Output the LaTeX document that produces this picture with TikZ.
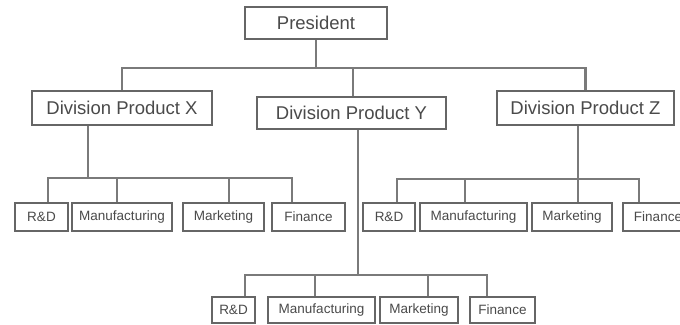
\documentclass[tikz,border=0pt]{standalone}
\usepackage{fontspec}
\setmainfont{Liberation Sans}
\definecolor{boxgray}{HTML}{666666}
\definecolor{linegray}{HTML}{7A7A7A}
\definecolor{txtgray}{HTML}{4A4A4A}
\begin{document}
\begin{tikzpicture}[x=1pt,y=-1pt,
  box/.style={draw=boxgray, line width=2pt, fill=white, text=txtgray, inner sep=0pt, anchor=center},
  big/.style={box, font=\fontsize{18.5}{21}\selectfont},
  small/.style={box, font=\fontsize{13.5}{16}\selectfont, minimum height=28pt},
  low/.style={box, font=\fontsize{13.5}{16}\selectfont, minimum height=26pt},
  link/.style={draw=linegray, line width=2.2pt}]
\fill[white] (0,0) rectangle (680,324);
\clip (0,0) rectangle (680,324);

% top level and divisions
\node[big, minimum width=142pt, minimum height=32pt] (pres) at (316,23) {President};
\node[big, minimum width=180pt, minimum height=34pt] (divx) at (122,108) {Division Product X};
\node[big, minimum width=189pt, minimum height=32pt] (divy) at (351.5,113) {Division Product Y};
\node[big, minimum width=177pt, minimum height=34pt] (divz) at (585.5,108) {Division Product Z};

% departments of X
\node[small, minimum width=53pt]  (rdx)  at (41.5,217)  {R\&D};
\node[small, minimum width=100pt] (mfx)  at (122,217)   {Manufacturing};
\node[small, minimum width=81pt]  (mkx)  at (223.5,217) {Marketing};
\node[small, minimum width=73pt]  (finx) at (308.5,217) {Finance};

% departments of Z
\node[small, minimum width=52pt]  (rdz)  at (389,217)   {R\&D};
\node[small, minimum width=107pt] (mfz)  at (473.5,217) {Manufacturing};
\node[small, minimum width=80pt]  (mkz)  at (572,217)   {Marketing};
\node[small, minimum width=70pt]  (finz) at (658,217)   {Finance};

% departments of Y
\node[low, minimum width=43pt]  (rdy)  at (233.5,310) {R\&D};
\node[low, minimum width=107pt] (mfy)  at (321.5,310) {Manufacturing};
\node[low, minimum width=78pt]  (mky)  at (419,310)   {Marketing};
\node[low, minimum width=65pt]  (finy) at (502.5,310) {Finance};

% president to divisions
\draw[link] (pres.south) -- ++(0,28) coordinate (tb);
\draw[link] (divx.north) |- (tb) -| (divz.north);
\draw[link] ([xshift=1.5pt]divy.north) -- ([xshift=1.5pt]divy.north |- tb);

% division X to its departments
\draw[link] ([xshift=-34pt]divx.south) -- ++(0,52) coordinate (bx);
\draw[link] ([xshift=6.5pt]rdx.north) |- (bx) -| ([xshift=-16.5pt]finx.north);
\draw[link] ([xshift=-5pt]mfx.north) -- ([xshift=-5pt]mfx.north |- bx);
\draw[link] ([xshift=5.5pt]mkx.north) -- ([xshift=5.5pt]mkx.north |- bx);

% division Z to its departments
\draw[link] ([xshift=-7.5pt]divz.south) -- ++(0,53) coordinate (bz);
\draw[link] ([xshift=8pt]rdz.north) |- (bz) -| ([xshift=-19pt]finz.north);
\draw[link] ([xshift=-8.5pt]mfz.north) -- ([xshift=-8.5pt]mfz.north |- bz);
\draw[link] ([xshift=6pt]mkz.north) -- ([xshift=6pt]mkz.north |- bz);

% division Y to its departments
\draw[link] ([xshift=6.5pt]divy.south) -- ++(0,145) coordinate (by);
\draw[link] ([xshift=11.5pt]rdy.north) |- (by) -| ([xshift=-15.5pt]finy.north);
\draw[link] ([xshift=-6.5pt]mfy.north) -- ([xshift=-6.5pt]mfy.north |- by);
\draw[link] ([xshift=9pt]mky.north) -- ([xshift=9pt]mky.north |- by);
\end{tikzpicture}
\end{document}
